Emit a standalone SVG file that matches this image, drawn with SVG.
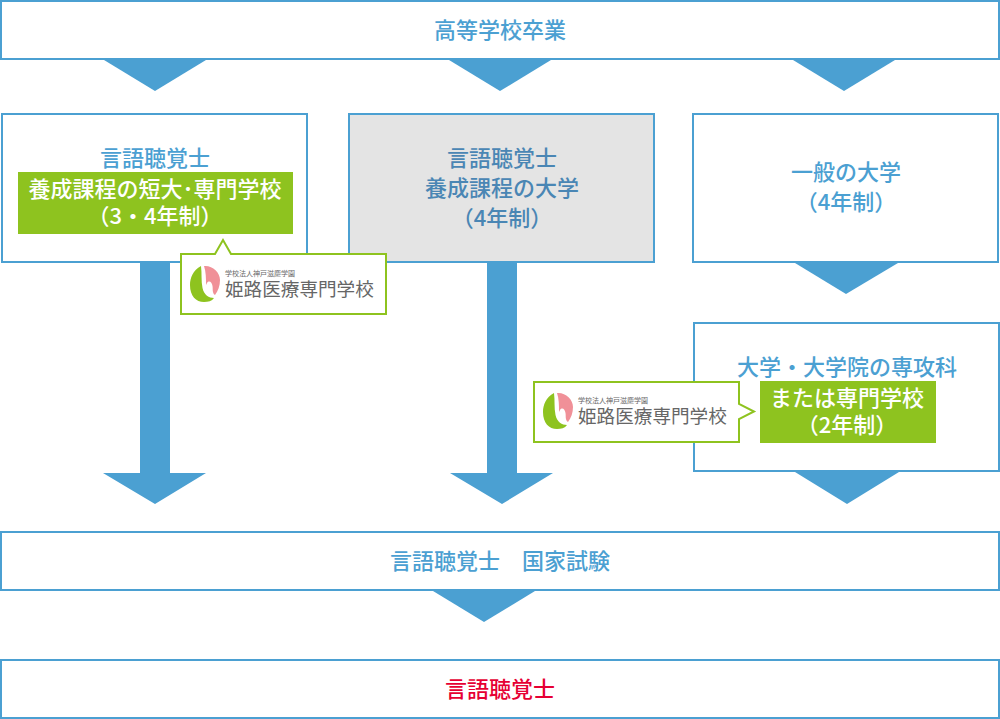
<svg xmlns="http://www.w3.org/2000/svg" width="1000" height="719" viewBox="0 0 1000 719">
<style>
.b{fill:#fff;stroke:#4ba0d2;stroke-width:2}
.a{fill:#4ba0d2}
.t{font-family:"Noto Sans CJK JP","Noto Sans",sans-serif;font-size:22px;font-weight:500;text-anchor:middle;fill:#4ba0d2}
.w{fill:#fff}
.d{fill:#4a86b4}
.g{fill:#8ec31f}
.c{fill:#fff;stroke:#8ec31f;stroke-width:2}
.l{font-family:"Noto Sans CJK JP",sans-serif;fill:#666;font-weight:400}
</style>
<defs>
<g id="logo">
<path class="g" d="M11 0C3 4 0 12 0 19C0 30 6 36 14 36C18 36 22 35 24 32C19 32 14 29 12.500 22C11 15 12 7 11 0Z"/>
<path fill="#f09098" d="M14 0C22 -1 30 6 30 14C30 20 28 25 25 29C22 27 23 23 22.500 20C22 16 19 14 17 17L16 19C16 12 16 6 14 0Z"/>
<text class="l" x="35" y="10" font-size="7">学校法人神戸滋慶学園</text>
<text class="l" x="35" y="30" font-size="18.6">姫路医療専門学校</text>
</g>
</defs>
<g id="connectors">
<path class="a" d="M104 60H206L155 91Z"/>
<path class="a" d="M449 60H551L500 91Z"/>
<path class="a" d="M793 60H895L844 91Z"/>
<path class="a" d="M140 262H170V473H206L155 504L103 473H140Z"/>
<path class="a" d="M487 262H517V473H553L502 504L450 473H487Z"/>
<path class="a" d="M795 263H898L846 294Z"/>
<path class="a" d="M795 472H899L847 504Z"/>
<path class="a" d="M433 591H535L484 622Z"/>
</g>
<g id="n-graduation"><rect class="b" x="1" y="1" width="998" height="58"/><text class="t" x="500" y="38">高等学校卒業</text></g>
<g id="n-college">
<rect class="b" x="2" y="114" width="305" height="148"/>
<text class="t" x="155" y="166">言語聴覚士</text>
<rect class="g" x="18" y="172" width="275" height="62"/>
<text class="t w" x="155" y="197">養成課程の短大･専門学校</text>
<text class="t w" x="155" y="224">（3・4年制）</text>
</g>
<g id="n-university">
<rect x="349" y="114" width="305" height="148" fill="#e4e4e4" stroke="#4ba0d2" stroke-width="2"/>
<text class="t d" x="502" y="166">言語聴覚士</text>
<text class="t d" x="502" y="196">養成課程の大学</text>
<text class="t d" x="502" y="226">（4年制）</text>
</g>
<g id="n-general">
<rect class="b" x="693" y="114" width="305" height="148"/>
<text class="t" x="846" y="180">一般の大学</text>
<text class="t" x="846" y="210">（4年制）</text>
</g>
<g id="n-graduate">
<rect class="b" x="694" y="323" width="305" height="148"/>
<text class="t" x="847" y="375">大学・大学院の専攻科</text>
<rect class="g" x="760" y="381" width="176" height="62"/>
<text class="t w" x="847" y="406">または専門学校</text>
<text class="t w" x="847" y="433">（2年制）</text>
</g>
<g id="n-exam"><rect class="b" x="1" y="532" width="998" height="58"/><text class="t" x="500" y="569">言語聴覚士　国家試験</text></g>
<g id="n-result"><rect class="b" x="1" y="660" width="998" height="58"/><text class="t" x="500" y="697" style="fill:#e60033">言語聴覚士</text></g>
<g id="n-callout-1">
<path class="c" d="M181 254H215L223 240L231 254H386V314H181Z"/>
<use href="#logo" x="190" y="266"/>
</g>
<g id="n-callout-2">
<path class="c" d="M534 382H739V404L754 411.500L739 419V442H534Z"/>
<use href="#logo" x="543" y="393"/>
</g>
</svg>
